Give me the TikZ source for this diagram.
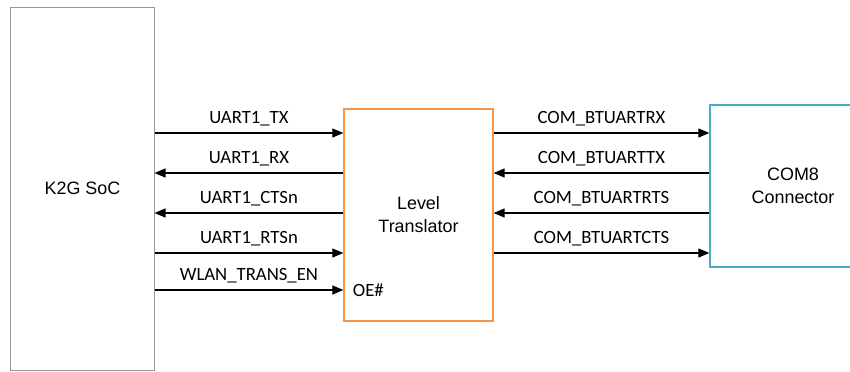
\documentclass[tikz,border=0pt]{standalone}
\usepackage{fontspec}
\setmainfont{Liberation Sans}
\newfontfamily\sigfont{Carlito}
\usetikzlibrary{arrows.meta}
\definecolor{socgray}{RGB}{150,150,150}
\definecolor{ltorange}{RGB}{247,150,70}
\definecolor{conblue}{RGB}{75,172,198}
\tikzstyle{blk}=[rectangle, line width=1.3bp, inner sep=0pt, align=center, font=\fontsize{18}{23}\selectfont]
\tikzstyle{sig}=[line width=1.2bp, -{Triangle[length=11bp,width=9bp]}]
\tikzstyle{lbl}=[midway, above=4bp, inner sep=2bp, font=\sigfont\fontsize{18.8}{21}\selectfont]

\begin{document}
\begin{tikzpicture}[x=1bp, y=-1bp]
	\useasboundingbox (0,0) rectangle (850,371);
	\clip (0,0) rectangle (850,371);

	%The blocks
	\draw (82.5,188.5) node[blk, draw=socgray, line width=1bp, minimum width=143bp, minimum height=363bp] (soc) {K2G SoC};
	\draw (418.5,215) node[blk, draw=ltorange, minimum width=149bp, minimum height=212bp] (lt) {Level\\Translator};
	\draw (793,186) node[blk, draw=conblue, minimum width=166bp, minimum height=162bp] (con) {COM8\\Connector};

	%SoC side signals
	\draw[sig] (soc.east |- 0,133) -- (lt.west |- 0,133) node[lbl] (l-tx) {UART1\_TX};
	\draw[sig] (lt.west |- 0,173) -- (soc.east |- 0,173) node[lbl] (l-rx) {UART1\_RX};
	\draw[sig] (lt.west |- 0,213) -- (soc.east |- 0,213) node[lbl] (l-cts) {UART1\_CTSn};
	\draw[sig] (soc.east |- 0,253) -- (lt.west |- 0,253) node[lbl] (l-rts) {UART1\_RTSn};
	\draw[sig] (soc.east |- 0,290) -- (lt.west |- 0,290) node[lbl] (l-en) {WLAN\_TRANS\_EN};
	\draw (lt.west |- 0,290) node[anchor=west, xshift=6bp, font=\sigfont\fontsize{18.8}{21}\selectfont] (oe) {OE\#};

	%Connector side signals
	\draw[sig] (lt.east |- 0,133) -- (con.west |- 0,133) node[lbl] (c-rx) {COM\_BTUARTRX};
	\draw[sig] (con.west |- 0,173) -- (lt.east |- 0,173) node[lbl] (c-tx) {COM\_BTUARTTX};
	\draw[sig] (con.west |- 0,213) -- (lt.east |- 0,213) node[lbl] (c-rts) {COM\_BTUARTRTS};
	\draw[sig] (lt.east |- 0,253) -- (con.west |- 0,253) node[lbl] (c-cts) {COM\_BTUARTCTS};
\end{tikzpicture}
\end{document}
